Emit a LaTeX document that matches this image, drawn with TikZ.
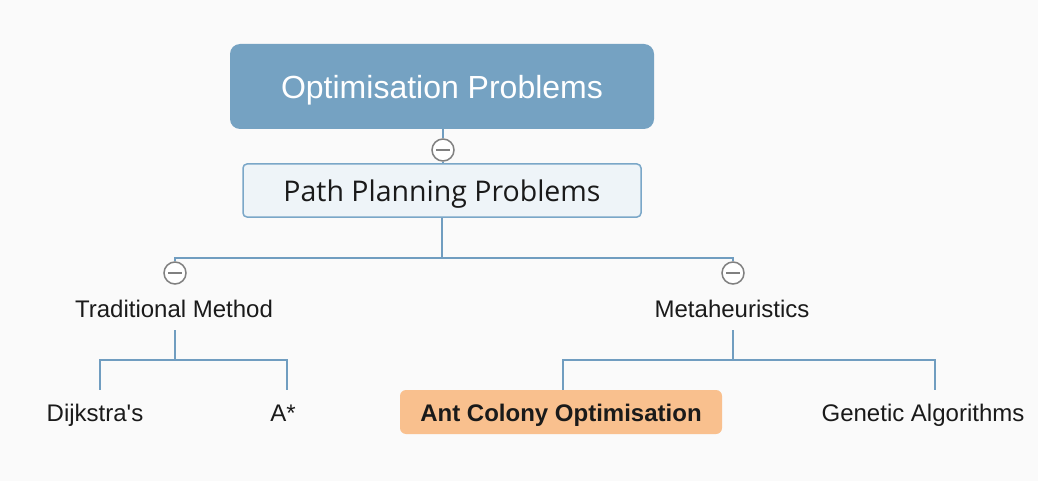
\documentclass[tikz,border=0pt]{standalone}
\usepackage{fontspec}
\setmainfont{Liberation Sans}
\newfontfamily\pathfont{Open Sans}
\usetikzlibrary{calc, positioning}

\definecolor{bggray}{RGB}{250,250,250}
\definecolor{rootblue}{RGB}{117,162,194}
\definecolor{linkblue}{RGB}{112,157,192}
\definecolor{pathfill}{RGB}{238,244,248}
\definecolor{pathborder}{RGB}{122,167,200}
\definecolor{acoorange}{RGB}{249,192,142}
\definecolor{togglegray}{RGB}{128,128,128}
\definecolor{inkblack}{RGB}{26,26,26}

\tikzset{
	link/.style={draw=linkblue, line width=2pt},
	toggle/.style={circle, draw=togglegray, fill=white, line width=1.5pt,
		minimum size=22pt, inner sep=0pt,
		path picture={\draw[togglegray, line width=1.5pt]
			($(path picture bounding box.center)+(-7,0)$) --
			($(path picture bounding box.center)+(7,0)$);}},
	root/.style={fill=rootblue, rounded corners=10pt, minimum width=424pt,
		minimum height=85pt, text=white, text height=23.6pt, text depth=0pt,
		font=\fontsize{32}{38}\selectfont},
	subtopic/.style={fill=pathfill, draw=pathborder, line width=1.5pt,
		rounded corners=4pt, minimum width=398pt, minimum height=53pt,
		text=inkblack, text height=22.4pt, text depth=0pt,
		font=\pathfont\fontsize{28.5}{34}\selectfont},
	branch/.style={minimum height=40pt, inner sep=0pt, text=inkblack,
		text height=15.5pt, text depth=0pt, font=\fontsize{24}{28}\selectfont},
	leaf/.style={minimum height=44pt, inner sep=0pt, text=inkblack,
		text height=19pt, text depth=0pt, font=\fontsize{24}{28}\selectfont},
}

\begin{document}
\begin{tikzpicture}[x=1pt, y=-1pt]
	\fill[bggray] (0,0) rectangle (1038,481);

	% main topics
	\node[root] (opt) at (442,86.5) {Optimisation Problems};
	\node[toggle] (t0) at (443,150) {};
	\node[subtopic] (path) at (442,190.5) {Path Planning Problems};

	% second level
	\node[toggle] (t1) at (175,273) {};
	\node[toggle] (t2) at (733,273) {};
	\node[branch] (trad) at (174,310) {Traditional Method};
	\node[branch] (meta) at (732,310) {Metaheuristics};

	% leaves
	\node[leaf] (dij) at (95,412) {Dijkstra\textquotesingle s};
	\node[leaf] (astar) at (283,412) {A*};
	\node[leaf, fill=acoorange, rounded corners=6pt, minimum width=322pt,
		font=\fontsize{24}{28}\selectfont\bfseries] (aco) at (561,412) {Ant Colony Optimisation};
	\node[leaf] (ga) at (923,412) {Genetic Algorithms};

	% connectors
	\draw[link] (opt.south -| t0) -- (t0.north);
	\draw[link] (t0.south) -- (path.north -| t0);
	\draw[link] (path.south) -- ++(0,40) coordinate (bar);
	\draw[link] (t1.north) |- (bar) -| (t2.north);

	\draw[link] (trad.south -| t1) -- ++(0,30) coordinate (tbar);
	\draw[link] ($(dij.north)+(5,0)$) |- (tbar) -| ($(astar.north)+(4,0)$);

	\draw[link] (meta.south -| t2) -- ++(0,30) coordinate (mbar);
	\draw[link] ($(aco.north)+(2,0)$) |- (mbar) -| ($(ga.north)+(12,0)$);
\end{tikzpicture}
\end{document}
